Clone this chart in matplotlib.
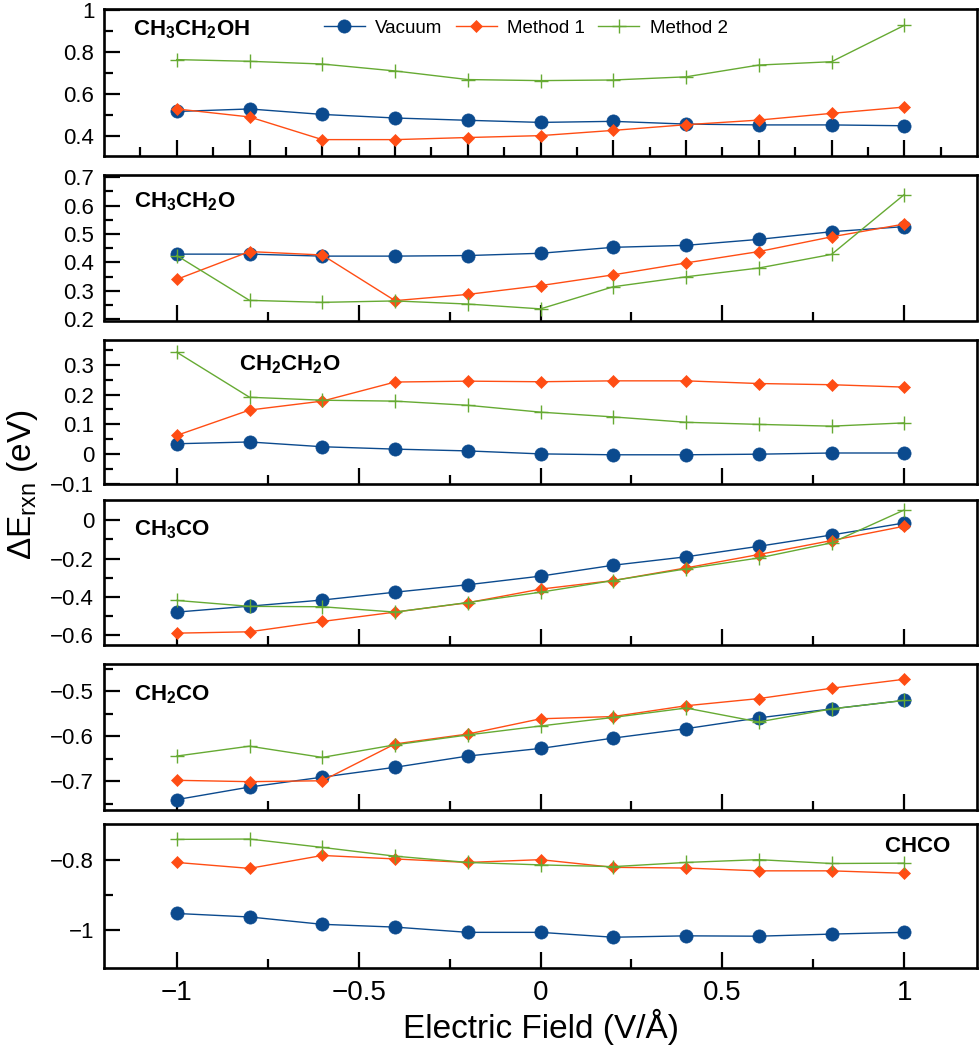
import matplotlib
matplotlib.use('Agg')
import matplotlib.pyplot as plt
from matplotlib.ticker import FixedLocator, FuncFormatter

plt.rcParams['font.family'] = ['Liberation Sans', 'DejaVu Sans']
plt.rcParams['mathtext.fontset'] = 'custom'
plt.rcParams['mathtext.rm'] = 'Liberation Sans'
plt.rcParams['mathtext.it'] = 'Liberation Sans:italic'
plt.rcParams['mathtext.bf'] = 'Liberation Sans:bold'

# ---------------- data ----------------
field = [-1.0, -0.8, -0.6, -0.4, -0.2, 0.0, 0.2, 0.4, 0.6, 0.8, 1.0]
series_names = ['Vacuum', 'Method 1', 'Method 2']
species_labels = [r'$\mathbf{CH_3CH_2OH}$', r'$\mathbf{CH_3CH_2O}$', r'$\mathbf{CH_2CH_2O}$',
                  r'$\mathbf{CH_3CO}$', r'$\mathbf{CH_2CO}$', r'$\mathbf{CHCO}$']

ch3ch2oh_vacuum = [0.515, 0.527, 0.501, 0.484, 0.473, 0.463, 0.468, 0.455, 0.451, 0.451, 0.447]
ch3ch2oh_m1 = [0.527, 0.489, 0.381, 0.381, 0.391, 0.400, 0.425, 0.452, 0.474, 0.506, 0.536]
ch3ch2oh_m2 = [0.762, 0.754, 0.741, 0.708, 0.667, 0.662, 0.665, 0.680, 0.736, 0.752, 0.925]

ch3ch2o_vacuum = [0.429, 0.429, 0.422, 0.422, 0.424, 0.432, 0.453, 0.460, 0.481, 0.508, 0.526]
ch3ch2o_m1 = [0.340, 0.438, 0.426, 0.265, 0.287, 0.318, 0.356, 0.398, 0.438, 0.490, 0.535]
ch3ch2o_m2 = [0.424, 0.266, 0.259, 0.264, 0.253, 0.236, 0.314, 0.349, 0.380, 0.428, 0.639]

ch2ch2o_vacuum = [0.035, 0.041, 0.025, 0.017, 0.011, 0.001, -0.002, -0.002, 0.000, 0.004, 0.004]
ch2ch2o_m1 = [0.063, 0.148, 0.178, 0.242, 0.245, 0.243, 0.246, 0.246, 0.237, 0.233, 0.225]
ch2ch2o_m2 = [0.342, 0.191, 0.181, 0.178, 0.164, 0.141, 0.125, 0.107, 0.100, 0.094, 0.105]

ch3co_vacuum = [-0.480, -0.449, -0.417, -0.376, -0.337, -0.292, -0.235, -0.191, -0.136, -0.077, -0.014]
ch3co_m1 = [-0.590, -0.583, -0.529, -0.480, -0.431, -0.360, -0.315, -0.249, -0.179, -0.106, -0.031]
ch3co_m2 = [-0.419, -0.450, -0.452, -0.480, -0.430, -0.376, -0.315, -0.254, -0.197, -0.118, 0.054]

ch2co_vacuum = [-0.741, -0.713, -0.691, -0.669, -0.644, -0.627, -0.604, -0.583, -0.559, -0.539, -0.520]
ch2co_m1 = [-0.698, -0.701, -0.699, -0.617, -0.595, -0.561, -0.556, -0.532, -0.516, -0.493, -0.473]
ch2co_m2 = [-0.644, -0.622, -0.647, -0.619, -0.597, -0.577, -0.558, -0.537, -0.568, -0.539, -0.520]

chco_vacuum = [-0.952, -0.962, -0.983, -0.991, -1.006, -1.006, -1.020, -1.016, -1.017, -1.011, -1.006]
chco_m1 = [-0.806, -0.823, -0.786, -0.796, -0.806, -0.798, -0.820, -0.822, -0.830, -0.830, -0.837]
chco_m2 = [-0.740, -0.739, -0.763, -0.788, -0.806, -0.813, -0.818, -0.806, -0.798, -0.809, -0.808]

panel_data = [
    (ch3ch2oh_vacuum, ch3ch2oh_m1, ch3ch2oh_m2),
    (ch3ch2o_vacuum, ch3ch2o_m1, ch3ch2o_m2),
    (ch2ch2o_vacuum, ch2ch2o_m1, ch2ch2o_m2),
    (ch3co_vacuum, ch3co_m1, ch3co_m2),
    (ch2co_vacuum, ch2co_m1, ch2co_m2),
    (chco_vacuum, chco_m1, chco_m2),
]

y_major = [[0.4, 0.6, 0.8, 1.0],
           [0.2, 0.3, 0.4, 0.5, 0.6, 0.7],
           [-0.1, 0.0, 0.1, 0.2, 0.3],
           [-0.6, -0.4, -0.2, 0.0],
           [-0.7, -0.6, -0.5],
           [-1.0, -0.8]]
y_minor = [[0.5, 0.7, 0.9],
           [0.25, 0.35, 0.45, 0.55, 0.65],
           [-0.05, 0.05, 0.15, 0.25, 0.35],
           [-0.5, -0.3, -0.1],
           [-0.75, -0.65, -0.55, -0.45],
           [-0.9]]
y_limits = [(0.303, 1.003), (0.195, 0.708), (-0.100, 0.383),
            (-0.652, 0.106), (-0.763, -0.439), (-1.108, -0.696)]

# ---------------- styling / layout ----------------
W, H = 980, 1054
fig = plt.figure(figsize=(W / 100, H / 100), dpi=100)

panel_px = [(9, 156), (175, 320.5), (340, 484), (500, 645), (664, 809.5), (824, 968)]
left_px, right_px = 104, 977

colors = ['#0b4a8e', '#ff4d14', '#66aa33']
styles = [dict(marker='o', ms=9.5, mew=0.5, lw=1.0),
          dict(marker='D', ms=6.6, mew=0.5, lw=1.0),
          dict(marker='+', ms=9.5, mew=1.0, lw=1.0)]

label_pos = [(0.033, 0.823, 'left'), (0.034, 0.778, 'left'), (0.155, 0.792, 'left'),
             (0.034, 0.754, 'left'), (0.034, 0.753, 'left'), (0.970, 0.808, 'right')]

fmt = FuncFormatter(lambda v, p: ('%g' % round(v, 6)).replace('-', '\u2212'))

axes = []
for i, (top, bot) in enumerate(panel_px):
    ax = fig.add_axes([left_px / W, 1 - bot / H, (right_px - left_px) / W, (bot - top) / H])
    axes.append(ax)
    for j in range(3):
        ax.plot(field, panel_data[i][j], color=colors[j], mec=colors[j], mfc=colors[j],
                label=series_names[j], **styles[j])
    ax.set_xlim(-1.2, 1.2)
    ax.set_ylim(*y_limits[i])
    ax.yaxis.set_major_locator(FixedLocator(y_major[i]))
    ax.yaxis.set_minor_locator(FixedLocator(y_minor[i]))
    ax.yaxis.set_major_formatter(fmt)
    if i == 0:
        ax.xaxis.set_major_locator(FixedLocator([-1, -0.8, -0.6, -0.4, -0.2, 0, 0.2, 0.4, 0.6, 0.8, 1]))
        ax.xaxis.set_minor_locator(FixedLocator([-1.1, -0.9, -0.7, -0.5, -0.3, -0.1, 0.1, 0.3, 0.5, 0.7, 0.9, 1.1]))
    else:
        ax.xaxis.set_major_locator(FixedLocator([-1, -0.5, 0, 0.5, 1]))
        ax.xaxis.set_minor_locator(FixedLocator([-0.75, -0.25, 0.25, 0.75]))
    ax.xaxis.set_major_formatter(fmt)
    for s in ax.spines.values():
        s.set_linewidth(1.9)
    ax.tick_params(axis='both', which='both', direction='in', top=False, right=False, width=1.6)
    ax.tick_params(axis='both', which='major', length=11.5)
    ax.tick_params(axis='both', which='minor', length=6.5)
    ax.tick_params(axis='y', which='major', labelsize=16, pad=7)
    ax.tick_params(axis='x', which='major', labelsize=20, pad=9)
    if i < 5:
        ax.tick_params(axis='x', labelbottom=False)
    lx, ly, ha = label_pos[i]
    ax.text(lx, ly, species_labels[i], transform=ax.transAxes, ha=ha, va='baseline',
            fontsize=16, fontweight='bold')

axes[0].legend(loc='center', bbox_to_anchor=(0.483, 0.869), ncol=3, frameon=False,
               fontsize=13.5, handlelength=2.2, handletextpad=0.55, columnspacing=0.7,
               borderpad=0, borderaxespad=0)

axes[-1].set_xlabel('Electric Field (V/\u00c5)', fontsize=24, labelpad=2)
fig.text(22 / W, 1 - 485 / H, r'$\Delta$E$_{\mathrm{rxn}}$ (eV)', rotation=90,
         ha='center', va='center', fontsize=24)

fig.savefig('out.png', dpi=100)
